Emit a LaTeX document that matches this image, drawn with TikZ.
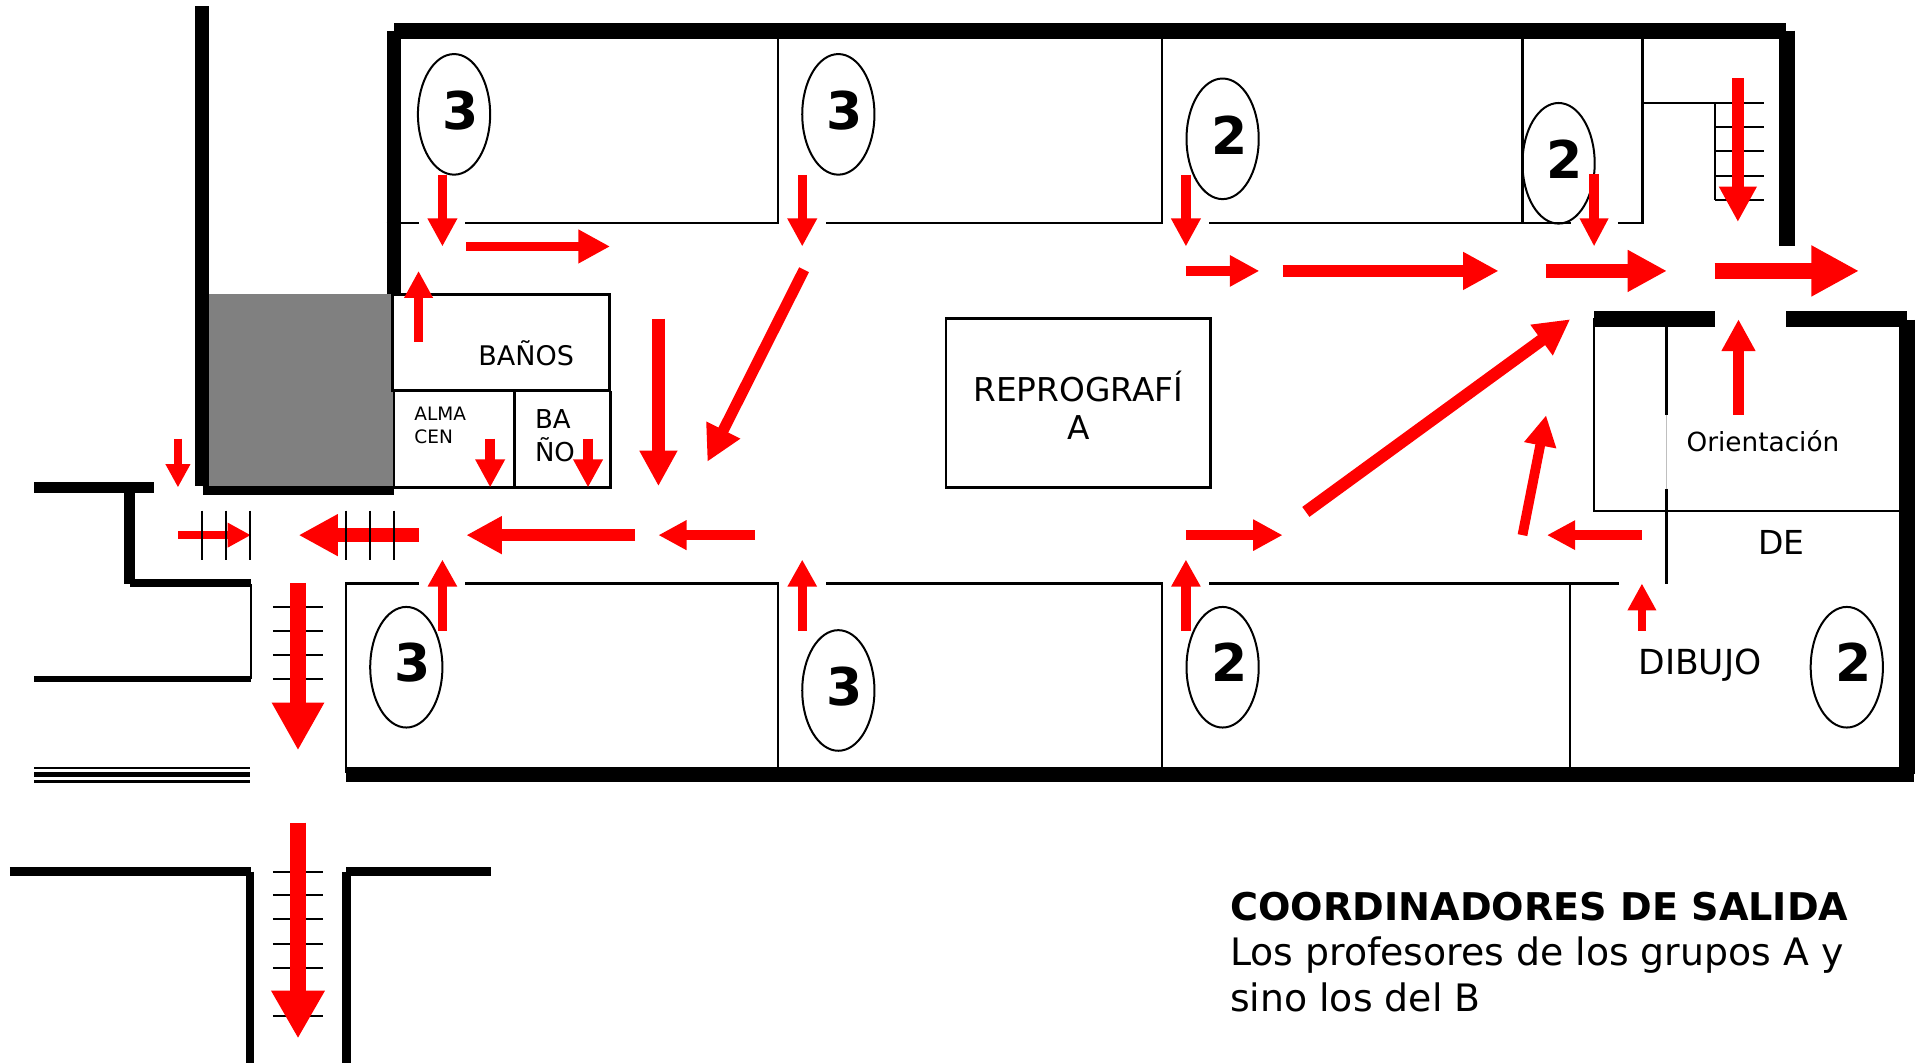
\documentclass[tikz,border=0pt]{standalone}
\usepackage{fontspec}
\setmainfont{DejaVu Sans}
\usetikzlibrary{arrows.meta}
\definecolor{exitred}{RGB}{255,0,0}
\tikzset{
  wall/.style={line width=#1*1.2238pt,black,line cap=butt},
  thinwall/.style={line width=2.2pt,black},
  rung/.style={line width=2pt,black},
  redarr/.style n args={3}{draw=exitred,line width=#1*1.2238pt,
    -{Triangle[length=#3*1.2238pt,width=#2*1.2238pt,fill=exitred]}},
  digit/.style={font=\fontsize{52}{52}\selectfont\bfseries,inner sep=0pt},
  lab/.style={font=\fontsize{#1}{#1}\selectfont,inner sep=0pt},
  oval/.style={line width=2pt,black}
}
\begin{document}
\begin{tikzpicture}[x=1.2239pt,y=-1.2232pt]
\useasboundingbox (0,0) rectangle (1568,869);
% gray block
\fill[black!50] (171,240.5) rectangle (322,398.5);
% thick walls
\draw[wall=12] (165,5) -- (165,397.5);
\draw[wall=7] (165.5,401) -- (322,401);
\draw[wall=12] (322,25) -- (322,240.5);
\draw[wall=13] (322,25.2) -- (1459,25.2);
\draw[wall=13] (1460,25) -- (1460,201.5);
\draw[wall=12.5] (1302.6,260.8) -- (1401,260.8);
\draw[wall=12.5] (1459.6,260.8) -- (1558,260.8);
\draw[wall=13] (1558,261.5) -- (1558,633);
\draw[wall=12.5] (283,633.2) -- (1564,633.2);
\draw[wall=8.5] (28,398.5) -- (126,398.5);
\draw[wall=9] (106,398.5) -- (106,477.5);
\draw[wall=6.5] (106,477) -- (205,477);
\draw[wall=5] (28,555) -- (205,555);
\draw[wall=1.8] (28,628.2) -- (204.5,628.2);
\draw[wall=4] (28,633.5) -- (204.5,633.5);
\draw[wall=2.4] (28,639.2) -- (204.5,639.2);
\draw[wall=6.8] (8,712.5) -- (205,712.5);
\draw[wall=6.8] (204.5,712.5) -- (204.5,869);
\draw[wall=6.8] (283,712.5) -- (401,712.5);
\draw[wall=6.8] (283,712.5) -- (283,869);
% thin walls
\draw[thinwall] (205,477.5) -- (205,555.5);
\draw[thinwall,line width=2.8pt] (321,240.5) rectangle (498,319.5);
\draw[thinwall,line width=2.6pt] (322,319.5) -- (322,398.5) -- (499,398.5) -- (499,319.5);
\draw[thinwall,line width=2.6pt] (420.5,319.5) -- (420.5,398.5);
\draw[thinwall,line width=2.6pt] (773,260.5) rectangle (989,398.5);
% upper rooms
\draw[thinwall] (316,182.2) -- (342,182.2);
\draw[thinwall] (380,182.2) -- (636,182.2) -- (636,30);
\draw[thinwall] (675,182.2) -- (949.5,182.2) -- (949.5,30);
\draw[thinwall] (988,182.2) -- (1284,182.2);
\draw[thinwall] (1244,30) -- (1244,182.2);
\draw[thinwall] (1322,182.2) -- (1342,182.2) -- (1342,30);
\draw[thinwall] (1342,84) -- (1401,84);
\draw[thinwall] (1401,84) -- (1401,163.5);
% lower rooms
\draw[thinwall] (342,477) -- (283,477) -- (283,632);
\draw[thinwall] (380,477) -- (636,477) -- (636,628);
\draw[thinwall] (675,477) -- (949.5,477) -- (949.5,628);
\draw[thinwall] (988,477) -- (1323,477);
\draw[thinwall] (1283,477) -- (1283,628);
% right rooms
\draw[thinwall] (1302.6,260) -- (1302.6,418) -- (1552,418);
\draw[thinwall] (1361.7,266) -- (1361.7,339);
\draw[line width=1pt,black!25] (1361.7,339) -- (1361.7,399.5);
\draw[thinwall] (1361.7,399.5) -- (1361.7,477.2);
% stairs under arrows
\foreach \y in {712.5,732,751.5,771.5,791.5,811,830.5} \draw[rung] (223,\y) -- (264,\y);
\foreach \y in {496.2,515.5,535.5,555} \draw[rung] (223,\y) -- (264,\y);
\foreach \y in {84,103.9,123.5,143.5,163.5} \draw[rung] (1401,\y) -- (1441,\y);
% ovals
\draw[oval] (371,93.5) ellipse (29.5 and 49.3);
\draw[oval] (685,93.5) ellipse (29.5 and 49.3);
\draw[oval] (999,113.5) ellipse (29.5 and 49.3);
\draw[oval] (1273.5,133.5) ellipse (29.5 and 49.3);
\draw[oval] (332,545.5) ellipse (29.5 and 49.3);
\draw[oval] (685,564.5) ellipse (29.5 and 49.3);
\draw[oval] (999,545.5) ellipse (29.5 and 49.3);
\draw[oval] (1509,545.5) ellipse (29.5 and 49.3);
\node[digit] (d1) at (376,90.5) {3};
\node[digit] (d2) at (690,90.5) {3};
\node[digit] (d3) at (1004.5,110.5) {2};
\node[digit] (d4) at (1278.5,130) {2};
\node[digit] (d5) at (337,541.5) {3};
\node[digit] (d6) at (690,561.5) {3};
\node[digit] (d7) at (1004.5,541.5) {2};
\node[digit] (d8) at (1514.5,541.5) {2};
% texts
\node[lab=27] (banos) at (430,288.5) {BAÑOS};
\node[lab=18.5,anchor=west] (alma) at (338.5,338.5) {ALMA};
\node[lab=18.5,anchor=west] (cen) at (338.5,357) {CEN};
\node[lab=26,anchor=west] (ba) at (437,342.5) {BA};
\node[lab=26,anchor=west] (no) at (437,367.5) {ÑO};
\node[lab=32.8] (repro) at (881,316) {REPROGRAFÍ};
\node[lab=32.8] (reproa) at (881.5,349.5) {A};
\node[lab=26.3] (orient) at (1440.5,360.8) {Orientación};
\node[lab=33] (de) at (1455.5,443.5) {DE};
\node[lab=34.5] (dibujo) at (1389,544) {DIBUJO};
\node[lab=38.2,anchor=west,font=\fontsize{38.2}{38.2}\selectfont\bfseries] (coord) at (1005,741) {COORDINADORES DE SALIDA};
\node[lab=37.8,anchor=west] (prof) at (1005,781) {Los profesores de los grupos A y};
\node[lab=37.8,anchor=west] (sino) at (1005,815.5) {sino los del B};
% red arrows
\draw[redarr={13}{41}{39}] (243.5,672.6) -- (243.5,849);
\draw[redarr={13}{40}{39}] (243.5,476.5) -- (243.5,613.5);
\draw[redarr={10}{29}{29}] (1420,64) -- (1420,181.5);
\draw[redarr={7.5}{23}{23}] (361.5,143) -- (361.5,201.5);
\draw[redarr={7.5}{23}{23}] (655.5,143) -- (655.5,201.5);
\draw[redarr={7.5}{23}{23}] (969,143) -- (969,201.5);
\draw[redarr={7.5}{22}{23}] (1302.5,142.5) -- (1302.5,201.5);
\draw[redarr={8}{26}{26}] (381,201.5) -- (498.5,201.5);
\draw[redarr={8}{24}{24}] (969,221.5) -- (1029,221.5);
\draw[redarr={10}{29}{29}] (1048,221.5) -- (1224.5,221.5);
\draw[redarr={11}{32}{32}] (1263,221.5) -- (1362,221.5);
\draw[redarr={13}{39}{39}] (1401,221.5) -- (1519,221.5);
\draw[redarr={8.7}{26}{26}] (1420.5,339) -- (1420.5,261);
\draw[redarr={8}{22}{22}] (342,279.5) -- (342,221.5);
\draw[redarr={10}{29}{29}] (538,260.5) -- (538,397.5);
\draw[redarr={9}{29}{29}] (657,220.5) -- (578,377.5);
\draw[redarr={8}{23}{23}] (400.5,358.5) -- (400.5,398.5);
\draw[redarr={8}{23}{23}] (480.5,358.5) -- (480.5,398.5);
\draw[redarr={6.7}{19}{19}] (145.4,358.5) -- (145.4,398.5);
\draw[redarr={6.3}{19}{19}] (145.5,437.5) -- (205,437.5);
\draw[redarr={11}{32}{32}] (342,437.5) -- (244,437.5);
\draw[redarr={10}{29}{29}] (519,437.5) -- (381,437.5);
\draw[redarr={8}{23}{23}] (617,437.5) -- (538,437.5);
\draw[redarr={7.5}{22.5}{22}] (361.5,516) -- (361.5,457.5);
\draw[redarr={7.5}{22.5}{22}] (655.5,516) -- (655.5,457.5);
\draw[redarr={7.5}{22.5}{22}] (969,516) -- (969,457.5);
\draw[redarr={8}{24}{24}] (969,437.5) -- (1048,437.5);
\draw[redarr={10}{29}{29}] (1067,418.5) -- (1283,261);
\draw[redarr={8}{25}{25}] (1244,437.5) -- (1263.3,339.5);
\draw[redarr={7.6}{22.6}{23}] (1341.6,437.5) -- (1264,437.5);
\draw[redarr={7}{22}{22}] (1341.6,515.5) -- (1341.6,477);
% treads over arrows
\foreach \x in {165,185,204.4,283,302.5,322} \draw[rung] (\x,417.5) -- (\x,457.5);
\end{tikzpicture}
\end{document}
